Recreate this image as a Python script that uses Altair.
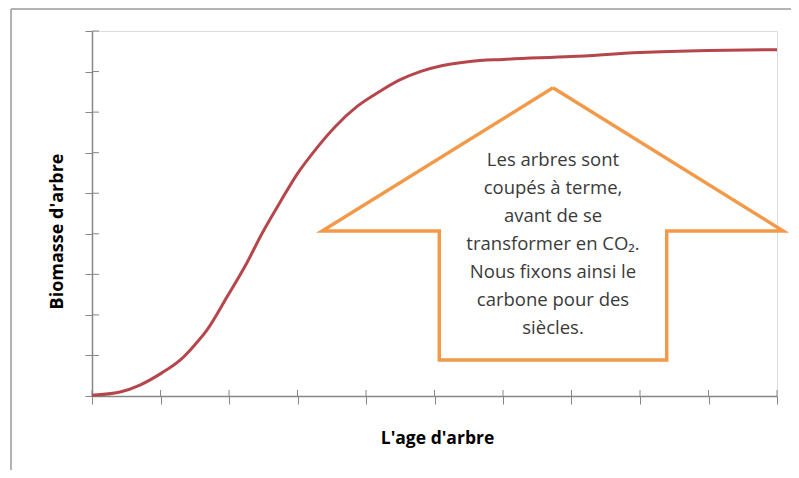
import altair as alt
import pandas as pd

# Growth curve (age in x-tick units, biomass in y-tick units)
age = [0, 0.41, 0.70, 1.02, 1.29, 1.50, 1.68, 1.97, 2.26, 2.48, 2.75, 2.99, 3.26, 3.55,
       3.87, 4.20, 4.50, 4.79, 5.12, 5.52, 6, 7, 8, 9, 10]
biomass = [0.02, 0.10, 0.27, 0.57, 0.89, 1.26, 1.63, 2.44, 3.28, 4.00, 4.79, 5.46, 6.07, 6.64,
           7.14, 7.51, 7.80, 8.00, 8.15, 8.25, 8.30, 8.37, 8.47, 8.52, 8.54]

x_ticks = list(range(0, 11))
y_ticks = list(range(0, 10))

# Arrow annotation outline (data units)
arrow_x = [6.73, 10.09, 8.39, 8.39, 5.07, 5.07, 3.36, 6.73]
arrow_y = [7.60, 4.07, 4.07, 0.89, 0.89, 4.07, 4.07, 7.60]

note_lines = ["Les arbres sont", "coupés à terme,", "avant de se", "transformer en CO₂.",
              "Nous fixons  ainsi le", "carbone pour des", "siècles."]

W, H = 685, 365
GRAY = "#868686"
FONT = "Open Sans"

curve_df = pd.DataFrame({"age": age, "biomass": biomass})
arrow_df = pd.DataFrame({"x": arrow_x, "y": arrow_y, "o": list(range(len(arrow_x)))})
xt_df = pd.DataFrame({"t": x_ticks})
yt_df = pd.DataFrame({"t": y_ticks})
note_df = pd.DataFrame({"x": [6.73], "y": [5.83], "txt": [note_lines]})

xs = alt.Scale(domain=[0, 10], nice=False)
ys = alt.Scale(domain=[0, 9], nice=False)

xaxis = alt.Axis(values=x_ticks, labels=False, grid=False, tickSize=8, tickColor=GRAY,
                 domainColor=GRAY, tickWidth=1, domainWidth=1.5,
                 title="L'age d'arbre", titleFont=FONT, titleFontSize=17.5, titleFontWeight="bold",
                 titleColor="#000000", titleX=345, titleY=42, titleAlign="center",
                 titleBaseline="middle", titleAnchor="start")
yaxis = alt.Axis(values=y_ticks, labels=False, grid=False, tickSize=7, tickColor=GRAY,
                 domainColor=GRAY, tickWidth=1, domainWidth=1.5,
                 title="Biomasse d'arbre", titleFont=FONT, titleFontSize=18, titleFontWeight="bold",
                 titleColor="#000000", titleX=-35, titleY=200, titleAlign="center",
                 titleBaseline="middle", titleAngle=270, titleAnchor="start")

curve = alt.Chart(curve_df).mark_line(color="#B5464B", strokeWidth=3, interpolate="monotone").encode(
    x=alt.X("age:Q", scale=xs, axis=xaxis),
    y=alt.Y("biomass:Q", scale=ys, axis=yaxis),
)

# inner halves of the crossing tick marks
xin = alt.Chart(xt_df).mark_rule(color=GRAY, strokeWidth=1).encode(
    x=alt.X("t:Q", scale=xs), y=alt.value(H), y2=alt.value(H - 6))
yin = alt.Chart(yt_df).mark_rule(color=GRAY, strokeWidth=1).encode(
    y=alt.Y("t:Q", scale=ys), x=alt.value(0), x2=alt.value(7))

arrow = alt.Chart(arrow_df).mark_line(color="#F39A4A", strokeWidth=3.5, strokeJoin="miter",
                                      clip=False).encode(
    x=alt.X("x:Q", scale=xs), y=alt.Y("y:Q", scale=ys), order="o:Q")

note = alt.Chart(note_df).mark_text(font=FONT, fontSize=18.5, color="#3a3a3a", align="center",
                                    baseline="middle", lineHeight=28).encode(
    x=alt.X("x:Q", scale=xs), y=alt.Y("y:Q", scale=ys), text="txt")

frame_top = alt.Chart(xt_df.head(1)).mark_rule(color="#9a9a9a", strokeWidth=1.5).encode(
    x=alt.value(-81), x2=alt.value(W + 40), y=alt.value(-22))
frame_left = alt.Chart(xt_df.head(1)).mark_rule(color="#9a9a9a", strokeWidth=1.5).encode(
    x=alt.value(-81), y=alt.value(-22), y2=alt.value(H + 120))

chart = alt.layer(frame_top, frame_left, xin, yin, curve, arrow, note).properties(
    width=W, height=H,
    autosize=alt.AutoSizeParams(type="none"),
    padding={"left": 84, "top": 23, "right": 14, "bottom": 74},
).configure_view(stroke=None).configure(background="white")

chart.save("out.html", embed_options={"renderer": "svg", "actions": False})
